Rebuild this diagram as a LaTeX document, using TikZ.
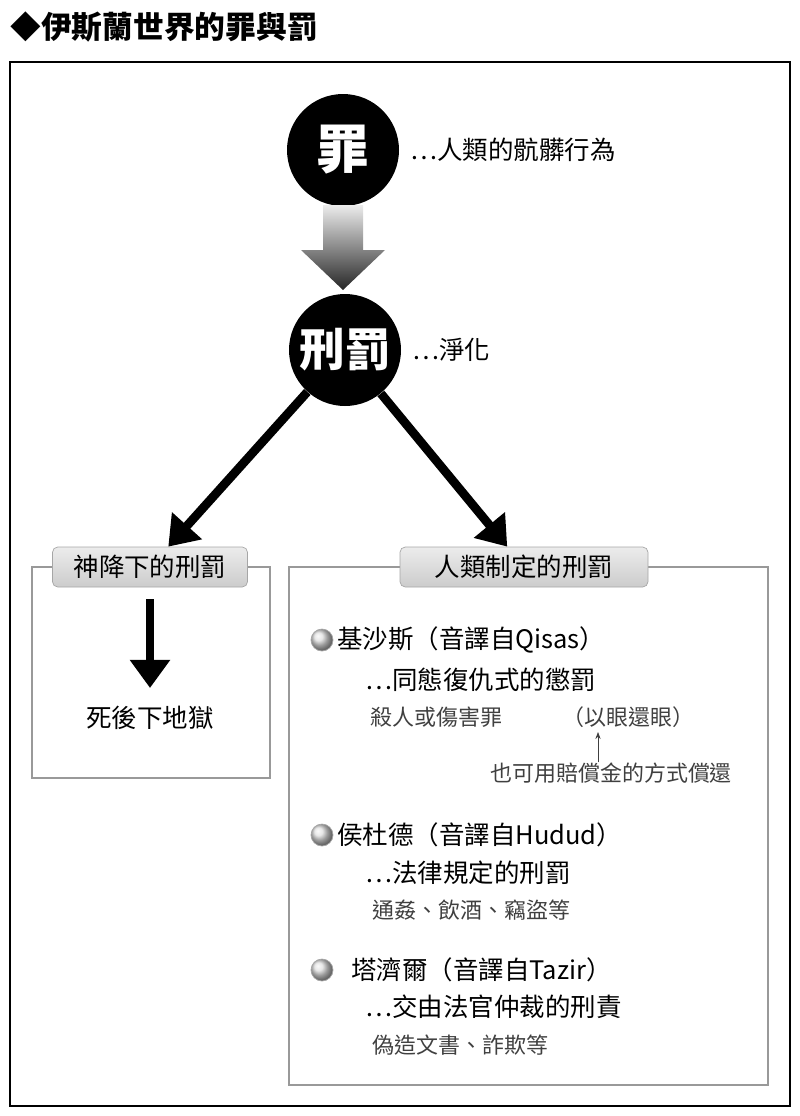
\documentclass[tikz,border=0pt]{standalone}
\usepackage{fontspec}
\setmainfont{Noto Sans CJK TC}
\usetikzlibrary{positioning,arrows.meta,shadings}

\tikzset{
  sin/.style={circle,fill=black,minimum size=112*0.02cm,inner sep=0pt,text=white,font=\fontsize{30}{32}\selectfont\bfseries},
  tag/.style={draw=gray!70,rounded corners=3pt,top color=gray!15,bottom color=gray!40,minimum height=40*0.02cm,inner xsep=6pt,font=\fontsize{14.5}{16}\selectfont},
  txt/.style={anchor=west,inner sep=0pt,font=\fontsize{14.5}{16}\selectfont},
  note/.style={anchor=west,inner sep=0pt,text=black!75,font=\fontsize{12.5}{14}\selectfont},
  ball/.style={circle,inner sep=0pt,minimum size=22*0.02cm,draw=gray!70,ball color=gray!25},
  bigarrow/.style={line width=5pt,-{Triangle[length=16pt,width=22pt]}}
}

\begin{document}
\begin{tikzpicture}[x=0.02cm,y=-0.02cm]
    \useasboundingbox (0,0) rectangle (800,1116);

    % Title
    \node[anchor=west,inner sep=0pt,font=\fontsize{17.5}{19}\selectfont\bfseries] (title) at (10,27) {◆伊斯蘭世界的罪與罰};
    \draw[line width=1.5pt] (10,62) rectangle (790,1106);

    % Sin and punishment
    \node[sin] (zui) at (343,150) {罪};
    \node[txt,right=6pt of zui] (zuitxt) {…人類的骯髒行為};
    \node[sin,font=\fontsize{26}{28}\selectfont\bfseries] (xingfa) at (345,350) {刑罰};
    \node[txt,right=6pt of xingfa] (xingfatxt) {…淨化};

    % Gradient arrow
    \shade[top color=gray!15,bottom color=black!85]
      (323,205) -- (363,205) -- (363,250) -- (385,250) -- (343,290) -- (301,250) -- (323,250) -- cycle;

    % Boxes
    \draw[gray!80,line width=1.2pt] (32,567) rectangle (270,778);
    \draw[gray!80,line width=1.2pt] (289,567) rectangle (768,1085);
    \node[tag,minimum width=195*0.02cm] (god) at (150,567) {神降下的刑罰};
    \node[tag,minimum width=248*0.02cm] (man) at (524,567) {人類制定的刑罰};

    % Arrows
    \draw[bigarrow] (xingfa) -- (god);
    \draw[bigarrow] (xingfa) -- (man);
    \node[txt,anchor=center] (hell) at (150,718) {死後下地獄};
    \draw[bigarrow] (god.south) ++(0,12) coordinate (gs) -- (150,688);

    % Qisas
    \node[ball] (b1) at (322,640) {};
    \node[txt,right=2pt of b1] (q1) {基沙斯（音譯自Qisas）};
    \node[txt] (q2) at (365,680) {…同態復仇式的懲罰};
    \node[note] (q3) at (370,717) {殺人或傷害罪};
    \node[note] (q4) at (562,717) {（以眼還眼）};
    \node[note] (q5) at (490,773) {也可用賠償金的方式償還};
    \draw[-{Stealth[length=4pt]},black!75] (q5.north -| 598,0) -- (598,732);

    % Hudud
    \node[ball] (b2) at (322,835) {};
    \node[txt,right=2pt of b2] (h1) {侯杜德（音譯自Hudud）};
    \node[txt] (h2) at (365,873) {…法律規定的刑罰};
    \node[note] (h3) at (372,910) {通姦、飲酒、竊盜等};

    % Tazir
    \node[ball] (b3) at (322,970) {};
    \node[txt,right=10pt of b3] (t1) {塔濟爾（音譯自Tazir）};
    \node[txt] (t2) at (365,1007) {…交由法官仲裁的刑責};
    \node[note] (t3) at (372,1045) {偽造文書、詐欺等};
\end{tikzpicture}
\end{document}
